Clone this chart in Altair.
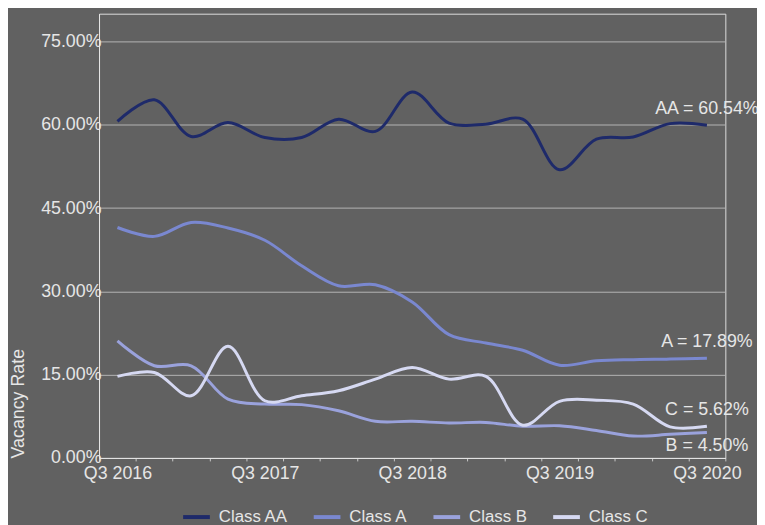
import altair as alt
import pandas as pd

quarters = ["Q3 2016", "Q4 2016", "Q1 2017", "Q2 2017", "Q3 2017", "Q4 2017",
            "Q1 2018", "Q2 2018", "Q3 2018", "Q4 2018", "Q1 2019", "Q2 2019",
            "Q3 2019", "Q4 2019", "Q1 2020", "Q2 2020", "Q3 2020"]

class_aa = [60.6, 64.5, 57.9, 60.4, 57.7, 57.7, 61.0, 58.8, 65.9, 60.3, 60.1, 61.0,
            51.9, 57.4, 57.8, 60.2, 59.9]
class_a = [41.5, 39.9, 42.4, 41.4, 39.2, 34.6, 31.0, 31.2, 28.1, 22.2, 20.7, 19.4,
           16.7, 17.5, 17.7, 17.8, 17.95]
class_b = [21.1, 16.6, 16.6, 10.6, 9.7, 9.6, 8.5, 6.6, 6.6, 6.3, 6.4, 5.7,
           5.8, 4.95, 3.95, 4.25, 4.6]
class_c = [14.7, 15.4, 11.2, 20.1, 10.3, 11.2, 12.1, 14.2, 16.3, 14.2, 14.7, 5.9,
           10.2, 10.4, 9.7, 5.6, 5.7]

series_names = ["Class AA", "Class A", "Class B", "Class C"]
series_values = [class_aa, class_a, class_b, class_c]
series_colors = ["#1e2a6a", "#7a88d0", "#9aa2dc", "#d6d9f2"]
end_labels = ["AA = 60.54%", "A = 17.89%", "B = 4.50%", "C = 5.62%"]
label_above = [True, True, False, True]

rows = []
for name, vals in zip(series_names, series_values):
    for q, v in zip(quarters, vals):
        rows.append({"quarter": q, "rate": v, "series": name})
df = pd.DataFrame(rows)

lab = pd.DataFrame({
    "quarter": [quarters[-1]] * 4,
    "rate": [v[-1] for v in series_values],
    "label": end_labels,
    "above": label_above,
})

x_enc = alt.X("quarter:O", sort=quarters,
              scale=alt.Scale(paddingInner=0, paddingOuter=0),
              axis=alt.Axis(title=None, tickBand="extent", grid=False,
                            labelExpr="indexof(datum.label, 'Q3') == 0 ? '\u00a0\u00a0\u00a0' + datum.label : ''",
                            labelAngle=0, labelPadding=4, tickSize=3,
                            tickColor="#c8c8c8", domainColor="#e6e6e6",
                            labelColor="#e6e6e6", labelFontSize=18))
y_enc = alt.Y("rate:Q", scale=alt.Scale(domain=[0, 80], nice=False),
              axis=alt.Axis(title="Vacancy Rate", values=[0, 15, 30, 45, 60, 75],
                            labelExpr="format(datum.value, '.2f') + '%'",
                            ticks=False, labelPadding=-2, grid=True,
                            gridColor="#b4b4b4", gridWidth=1,
                            domainColor="#e6e6e6", labelColor="#e6e6e6",
                            labelFontSize=18, titleColor="#e6e6e6",
                            titleFontSize=18, titleFontWeight="normal",
                            titleAnchor="start", titlePadding=13))

lines = alt.Chart(df).mark_line(interpolate="catmull-rom", strokeWidth=3).encode(
    x=x_enc, y=y_enc,
    color=alt.Color("series:N", sort=series_names,
                    scale=alt.Scale(domain=series_names, range=series_colors),
                    legend=alt.Legend(title=None, orient="none", direction="horizontal",
                                      legendX=83, legendY=493,
                                      symbolType="stroke", symbolSize=729,
                                      symbolStrokeWidth=4, labelFontSize=17,
                                      labelColor="#e6e6e6", labelOffset=7,
                                      columnPadding=18)),
)

above = alt.Chart(lab).transform_filter("datum.above").mark_text(
    dy=-16, fontSize=18, color="#e6e6e6", align="center", baseline="middle"
).encode(x=alt.X("quarter:O", sort=quarters), y="rate:Q", text="label:N")

below = alt.Chart(lab).transform_filter("!datum.above").mark_text(
    dy=14, fontSize=18, color="#e6e6e6", align="center", baseline="middle"
).encode(x=alt.X("quarter:O", sort=quarters), y="rate:Q", text="label:N")

chart = alt.layer(lines, above, below).properties(
    width=633, height=449,
    autosize=alt.AutoSizeParams(type="none"),
    padding={"left": 92, "top": 3, "right": 32, "bottom": 65},
    background="#616161",
).configure_view(stroke="#e6e6e6", strokeWidth=1).configure(
    font="Liberation Sans"
)

chart.save("out.html", embed_options={"renderer": "svg", "actions": False})
